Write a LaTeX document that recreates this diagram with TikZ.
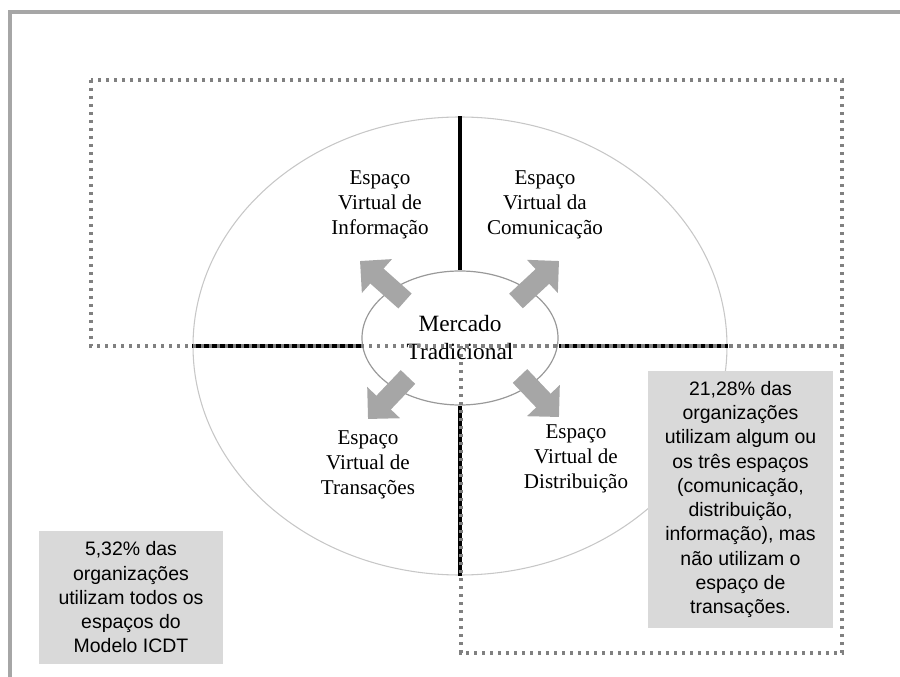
\documentclass[tikz,border=0pt]{standalone}
\usepackage{fontspec}
\setmainfont{Liberation Serif}
\newfontfamily\arialfont{Liberation Sans}
\usetikzlibrary{shapes.geometric,arrows.meta}
\definecolor{moldura}{HTML}{A6A6A6}
\definecolor{pontilhado}{HTML}{808080}
\definecolor{caixacinza}{HTML}{D9D9D9}
\definecolor{setacinza}{HTML}{A6A6A6}

\begin{document}
\begin{tikzpicture}[x=0.75pt,y=-0.75pt,
    espaco/.style={align=center,font=\fontsize{15.8}{18.8}\selectfont},
    caixa/.style={fill=caixacinza,align=center,inner sep=0pt,
        font=\arialfont\fontsize{14.6}{18.2}\selectfont},
    seta/.style={setacinza,line width=15pt,-{Triangle[length=17pt,width=33pt]}},
    borda/.style={pontilhado,line width=2.5pt,dash pattern=on 2.5pt off 3.5pt}]
    \useasboundingbox (0,0) rectangle (900,677);
    \draw[moldura,line width=2.4pt] (10,677) -- (10,12) -- (900,12);

    \node[ellipse,draw=black!22,line width=0.8pt,inner sep=0pt,
        minimum width=400.5pt,minimum height=343.5pt] at (460,346) (mundo) {};
    \node[ellipse,draw=black!40,line width=0.9pt,inner sep=0pt,
        minimum width=147pt,minimum height=100.5pt,
        align=center,font=\fontsize{17.5}{21}\selectfont] at (460,338) (mercado) {Mercado\\Tradicional};

    \draw[line width=2.3pt] (mundo.north) -- (mercado.north);
    \draw[line width=2.3pt] (mundo.south) -- (mercado.south);
    \draw[line width=2.3pt] (mundo.west) -- (mundo.west -| mercado.west);
    \draw[line width=2.3pt] (mundo.east) -- (mundo.east -| mercado.east);

    \draw[borda] (91,80) rectangle (842,346);
    \draw[borda] (461,346) rectangle (842,653);

    \coordinate (s1) at (405,301);
    \coordinate (t1) at (360,261);
    \coordinate (s2) at (516,301);
    \coordinate (t2) at (559,261);
    \coordinate (s3) at (408,377);
    \coordinate (t3) at (368,419);
    \coordinate (s4) at (520,376);
    \coordinate (t4) at (559,417);
    \draw[seta] (s1) -- (t1);
    \draw[seta] (s2) -- (t2);
    \draw[seta] (s3) -- (t3);
    \draw[seta] (s4) -- (t4);

    \node[espaco] at (380,205) (info)  {Espaço\\Virtual de\\Informação};
    \node[espaco] at (545,205) (comun) {Espaço\\Virtual da\\Comunicação};
    \node[espaco] at (368,465) (trans) {Espaço\\Virtual de\\Transações};
    \node[espaco] at (576,459) (distr) {Espaço\\Virtual de\\Distribuição};

    \node[caixa,minimum width=138pt,minimum height=99.75pt] at (131,597.5) (todos)
        {5,32\% das\\organizações\\utilizam todos os\\espaços do\\Modelo ICDT};
    \node[caixa,minimum width=138.75pt,minimum height=192.75pt] at (740.5,499.5) (tres)
        {21,28\% das\\organizações\\utilizam algum ou\\os três espaços\\(comunicação,\\distribuição,\\informação), mas\\não utilizam o\\espaço de\\transações.};
\end{tikzpicture}
\end{document}
